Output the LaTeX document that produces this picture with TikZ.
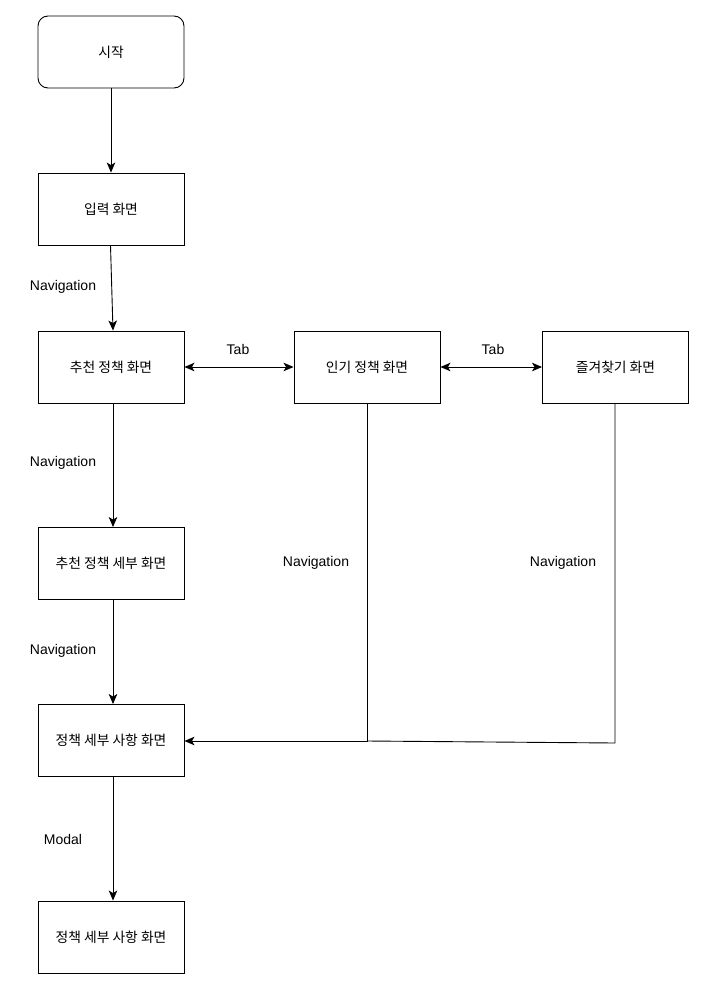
\documentclass[tikz,border=0pt]{standalone}
\usepackage{fontspec}
\setmainfont{Liberation Sans}
\newfontfamily\kr{Noto Sans CJK KR}
\usetikzlibrary{arrows.meta}
\begin{document}
\begin{tikzpicture}[x=1pt,y=-1pt,
  box/.style={draw, line width=0.9pt, minimum width=146pt, minimum height=72pt, inner sep=0pt, font=\kr\fontsize{13.8}{15}\selectfont},
  conn/.style={line width=0.9pt, -{Stealth[length=10pt,width=8.5pt,inset=2.5pt]}},
  bconn/.style={line width=0.9pt, {Stealth[length=10pt,width=8.5pt,inset=2.5pt]}-{Stealth[length=10pt,width=8.5pt,inset=2.5pt]}},
  lbl/.style={font=\fontsize{14}{16}\selectfont, inner sep=0pt}]
\useasboundingbox (0,0) rectangle (720,990);
\fill[white] (0,0) rectangle (720,990);
\node[box, rounded corners=10pt] (start) at (111,52) {시작};
\node[box] (input) at (111,209) {입력 화면};
\node[box] (rec) at (111,367) {추천 정책 화면};
\node[box] (pop) at (367,367) {인기 정책 화면};
\node[box] (fav) at (615.5,367) {즐겨찾기 화면};
\node[box] (recd) at (111,563.5) {추천 정책 세부 화면};
\node[box] (det) at (111,740.5) {정책 세부 사항 화면};
\node[box] (modal) at (111,937) {정책 세부 사항 화면};
\coordinate (j1) at (367,741);
\coordinate (j2) at (615,743);
\draw[conn] (start.south) -- (input.north);
\draw[conn] ([xshift=-0.5pt]input.south) -- ([xshift=2pt]rec.north);
\draw[bconn] (rec.east) -- (pop.west);
\draw[bconn] (pop.east) -- (fav.west);
\draw[conn] ([xshift=2pt]rec.south) -- ([xshift=2pt]recd.north);
\draw[conn] ([xshift=2pt]recd.south) -- ([xshift=2pt]det.north);
\draw[conn] ([xshift=2pt]det.south) -- ([xshift=2pt]modal.north);
\draw[line width=0.9pt] (fav.south -| j2) -- (j2) -- (j1);
\draw[conn] (pop.south) -- (j1) -- (det.east |- j1);
\node[lbl] (l1) at (63,287) {Navigation};
\node[lbl] (l2) at (238,349) {Tab};
\node[lbl] (l3) at (493,349) {Tab};
\node[lbl] (l4) at (63,463) {Navigation};
\node[lbl] (l5) at (63,651) {Navigation};
\node[lbl] (l6) at (316,563) {Navigation};
\node[lbl] (l7) at (563,563) {Navigation};
\node[lbl] (l8) at (63,839) {Modal};
\end{tikzpicture}
\end{document}
